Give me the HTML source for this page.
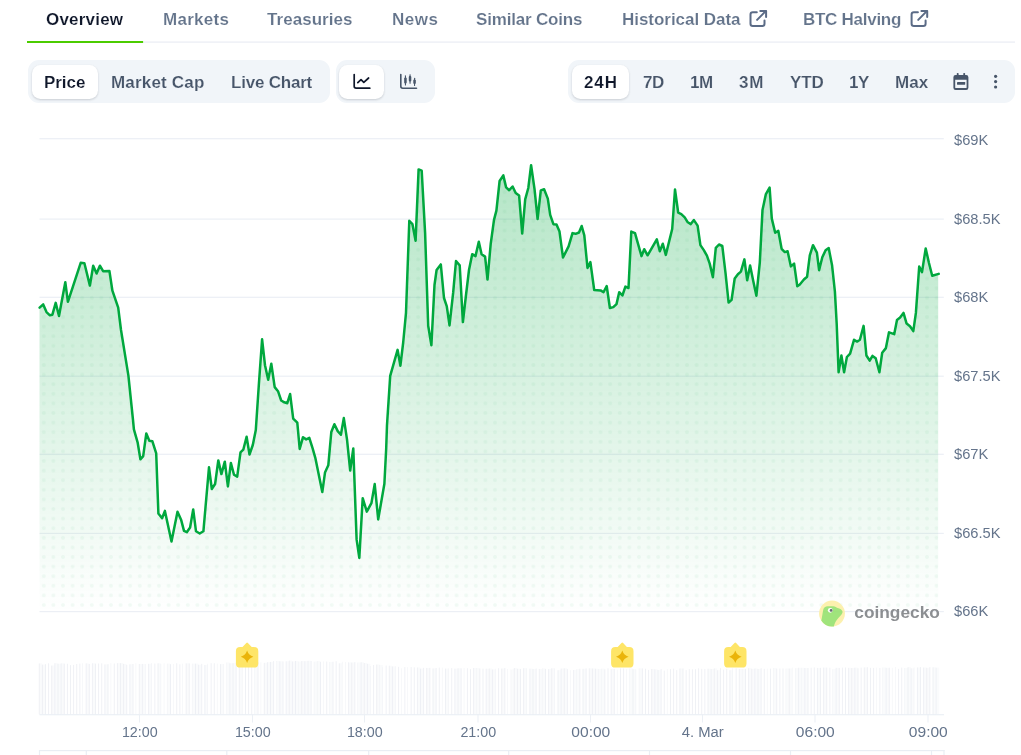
<!DOCTYPE html><html><head><meta charset="utf-8"><title>Bitcoin Price Chart</title><style>
*{margin:0;padding:0;box-sizing:border-box}
html,body{width:1021px;height:755px;overflow:hidden;background:#fff}
body{font-family:"Liberation Sans",sans-serif;position:relative}
.chart{position:absolute;left:0;top:0;will-change:transform}
.ax{font-family:"Liberation Sans",sans-serif;font-size:14.7px;fill:#64748b}
.cg{font-family:"Liberation Sans",sans-serif;font-size:17px;font-weight:700;fill:#808387}
.t{position:absolute;white-space:nowrap;will-change:transform;font-weight:700;font-size:17px;line-height:20px;height:20px}
.nav{color:#64748b;-webkit-text-stroke:0.15px #fff}
.nav.on{color:#0f172a}
.seg{color:#475569;-webkit-text-stroke:0.15px #f1f5f9}
.seg.on{color:#0f172a;-webkit-text-stroke:0.15px #fff}
.navline{position:absolute;left:27px;top:42px;width:988px;height:1.2px;background:#eef1f5}
.navon{position:absolute;left:27px;top:40.8px;width:116px;height:2.4px;background:#4bcc00}
.grp{position:absolute;top:60px;height:43px;background:#f1f5f9;border-radius:11px}
.btn{position:absolute;top:65px;height:34px;background:#fff;border-radius:8.5px;box-shadow:0 1px 2px rgba(15,23,42,.10),0 1px 3px rgba(15,23,42,.08)}
.ico{position:absolute;left:0;top:0}
</style></head><body>
<svg class="chart" width="1021" height="755" viewBox="0 0 1021 755">
<defs>
<linearGradient id="ag" x1="0" y1="138.7" x2="0" y2="611.6" gradientUnits="userSpaceOnUse">
<stop offset="0" stop-color="#00a83e" stop-opacity="0.315"/>
<stop offset="1" stop-color="#00a83e" stop-opacity="0"/>
</linearGradient>
<pattern id="dots" x="39" y="398.6" width="9.6" height="9.6" patternUnits="userSpaceOnUse">
<circle cx="4.8" cy="4.8" r="1.95" fill="#00a83e" fill-opacity="0.05"/>
</pattern>
<clipPath id="ac"><path d="M39.6 307.6 L43.2 304.4 L46.5 312.1 L49.9 315.3 L52.4 314.7 L55.7 302.9 L59.0 316.0 L65.3 282.2 L67.9 301.8 L80.7 262.8 L84.4 263.2 L89.9 285.6 L93.2 265.7 L96.6 273.5 L99.9 265.7 L103.1 271.2 L109.4 270.9 L112.4 290.7 L118.2 307.6 L121.0 330.0 L128.4 375.6 L133.0 420.0 L133.9 429.3 L137.6 442.3 L140.4 459.3 L143.2 456.2 L146.3 433.4 L149.3 440.8 L152.4 441.3 L156.2 453.4 L158.4 513.6 L162.1 518.3 L164.9 510.9 L171.5 541.5 L177.5 511.8 L181.2 520.1 L184.0 530.9 L186.8 532.2 L190.1 527.5 L193.2 509.4 L196.0 531.3 L199.7 533.5 L203.4 531.3 L209.0 467.3 L211.8 489.0 L215.1 484.0 L218.3 460.4 L221.4 474.1 L224.8 461.7 L227.9 486.4 L230.9 463.0 L234.0 474.7 L237.2 476.6 L240.5 452.4 L243.3 449.7 L246.6 436.7 L249.5 454.5 L252.8 445.0 L255.8 430.1 L258.9 383.8 L262.1 339.3 L265.0 365.2 L268.2 379.7 L271.3 363.7 L274.7 387.1 L278.0 391.2 L281.2 400.5 L284.3 402.3 L287.3 403.2 L290.1 394.0 L293.2 418.6 L297.3 422.7 L299.7 449.0 L303.0 437.2 L306.2 439.4 L309.3 437.9 L312.7 448.7 L315.3 457.8 L322.3 492.1 L325.0 472.6 L328.3 465.3 L331.3 432.0 L334.4 424.2 L337.7 431.1 L340.9 434.8 L343.8 418.1 L347.0 439.4 L350.2 470.5 L353.3 448.5 L356.6 539.4 L359.3 557.9 L362.7 498.2 L366.8 511.6 L371.4 503.2 L374.7 484.1 L378.2 519.4 L384.4 483.8 L386.2 448.5 L387.0 425.0 L390.2 375.9 L393.9 362.9 L397.6 349.9 L400.4 365.7 L403.2 342.5 L406.0 312.8 L409.3 220.8 L412.4 224.0 L415.6 240.7 L418.6 169.4 L421.7 170.7 L425.1 232.9 L428.2 325.8 L431.4 345.3 L434.5 285.0 L436.6 270.0 L440.8 264.4 L444.0 298.0 L446.8 306.3 L449.5 325.4 L453.2 292.4 L456.0 261.1 L459.7 265.3 L462.9 322.1 L466.0 295.0 L469.0 270.0 L472.2 254.2 L475.5 256.1 L478.8 241.8 L481.6 254.2 L485.1 256.6 L487.5 279.6 L490.7 244.0 L494.0 219.9 L496.4 210.6 L499.6 181.0 L503.3 175.4 L506.1 187.4 L509.2 190.2 L512.6 186.5 L515.7 193.0 L519.1 195.4 L522.2 233.6 L525.2 199.3 L528.3 188.0 L531.1 165.2 L534.5 188.9 L537.6 219.0 L540.8 190.4 L544.1 189.3 L547.8 198.6 L550.2 214.9 L553.4 224.2 L556.5 224.5 L559.5 231.6 L563.0 257.5 L568.6 246.4 L572.5 233.1 L575.6 233.8 L579.0 232.5 L581.7 226.0 L584.3 235.3 L587.5 268.0 L590.4 262.1 L594.2 290.0 L600.6 290.4 L603.5 292.2 L606.7 286.0 L609.9 308.0 L613.3 307.1 L616.5 304.1 L619.2 292.2 L622.4 295.5 L625.4 286.6 L628.5 288.0 L631.3 231.6 L635.0 233.1 L641.5 256.1 L644.2 249.2 L647.6 255.3 L656.8 239.4 L659.8 251.2 L662.8 243.7 L665.8 254.9 L672.2 229.0 L675.0 189.5 L678.2 212.6 L681.3 214.1 L684.7 217.3 L687.8 222.3 L690.8 224.1 L693.9 220.1 L697.6 225.6 L700.4 245.1 L703.8 250.1 L706.9 255.7 L709.7 263.6 L712.9 277.2 L715.8 247.9 L719.0 244.5 L722.3 246.0 L725.5 272.9 L728.6 302.6 L731.6 299.8 L734.7 278.5 L737.9 274.2 L740.9 271.6 L744.4 259.4 L747.2 280.3 L750.1 265.5 L753.3 281.3 L756.4 295.7 L759.8 262.7 L762.5 209.9 L765.9 194.1 L769.6 187.6 L771.8 218.6 L775.2 232.7 L778.3 230.8 L781.6 248.8 L784.8 252.1 L787.6 251.2 L790.9 266.4 L794.1 263.6 L797.3 286.2 L799.6 284.7 L803.9 279.5 L807.1 276.7 L809.8 255.4 L813.0 245.2 L816.9 252.6 L819.1 270.2 L822.3 257.3 L825.6 250.2 L828.7 248.0 L832.1 265.6 L834.9 291.6 L836.7 324.0 L838.6 372.2 L841.4 355.5 L844.1 372.2 L846.9 357.0 L850.1 353.7 L854.0 339.8 L857.1 341.6 L859.9 339.8 L863.6 325.9 L866.4 355.5 L869.7 360.7 L872.5 355.9 L875.7 358.3 L879.4 372.2 L882.2 352.7 L885.9 348.1 L889.0 332.3 L894.2 334.2 L897.0 319.9 L900.1 317.5 L903.5 312.9 L906.6 323.6 L910.0 326.2 L913.3 331.1 L915.9 312.9 L919.2 266.5 L922.0 272.1 L925.7 248.4 L928.9 262.8 L932.2 275.8 L938.7 273.9 L938.2 273.9 L938.2 611.6 L39.5 611.6 L39.5 307.6 Z"/></clipPath>
</defs>
<rect x="27" y="41.4" width="988" height="1.4" fill="#edeff5"/><rect x="27" y="41" width="116.1" height="2" fill="#4bcc00"/>
<rect x="39.5" y="138.10" width="904.3" height="1.2" fill="#eceff5"/>
<rect x="39.5" y="218.50" width="904.3" height="1.2" fill="#eceff5"/>
<rect x="39.5" y="296.70" width="904.3" height="1.2" fill="#eceff5"/>
<rect x="39.5" y="375.60" width="904.3" height="1.2" fill="#eceff5"/>
<rect x="39.5" y="453.70" width="904.3" height="1.2" fill="#eceff5"/>
<rect x="39.5" y="532.80" width="904.3" height="1.2" fill="#eceff5"/>
<rect x="39.5" y="611.00" width="904.3" height="1.2" fill="#eceff5"/>
<path d="M39.6 307.6 L43.2 304.4 L46.5 312.1 L49.9 315.3 L52.4 314.7 L55.7 302.9 L59.0 316.0 L65.3 282.2 L67.9 301.8 L80.7 262.8 L84.4 263.2 L89.9 285.6 L93.2 265.7 L96.6 273.5 L99.9 265.7 L103.1 271.2 L109.4 270.9 L112.4 290.7 L118.2 307.6 L121.0 330.0 L128.4 375.6 L133.0 420.0 L133.9 429.3 L137.6 442.3 L140.4 459.3 L143.2 456.2 L146.3 433.4 L149.3 440.8 L152.4 441.3 L156.2 453.4 L158.4 513.6 L162.1 518.3 L164.9 510.9 L171.5 541.5 L177.5 511.8 L181.2 520.1 L184.0 530.9 L186.8 532.2 L190.1 527.5 L193.2 509.4 L196.0 531.3 L199.7 533.5 L203.4 531.3 L209.0 467.3 L211.8 489.0 L215.1 484.0 L218.3 460.4 L221.4 474.1 L224.8 461.7 L227.9 486.4 L230.9 463.0 L234.0 474.7 L237.2 476.6 L240.5 452.4 L243.3 449.7 L246.6 436.7 L249.5 454.5 L252.8 445.0 L255.8 430.1 L258.9 383.8 L262.1 339.3 L265.0 365.2 L268.2 379.7 L271.3 363.7 L274.7 387.1 L278.0 391.2 L281.2 400.5 L284.3 402.3 L287.3 403.2 L290.1 394.0 L293.2 418.6 L297.3 422.7 L299.7 449.0 L303.0 437.2 L306.2 439.4 L309.3 437.9 L312.7 448.7 L315.3 457.8 L322.3 492.1 L325.0 472.6 L328.3 465.3 L331.3 432.0 L334.4 424.2 L337.7 431.1 L340.9 434.8 L343.8 418.1 L347.0 439.4 L350.2 470.5 L353.3 448.5 L356.6 539.4 L359.3 557.9 L362.7 498.2 L366.8 511.6 L371.4 503.2 L374.7 484.1 L378.2 519.4 L384.4 483.8 L386.2 448.5 L387.0 425.0 L390.2 375.9 L393.9 362.9 L397.6 349.9 L400.4 365.7 L403.2 342.5 L406.0 312.8 L409.3 220.8 L412.4 224.0 L415.6 240.7 L418.6 169.4 L421.7 170.7 L425.1 232.9 L428.2 325.8 L431.4 345.3 L434.5 285.0 L436.6 270.0 L440.8 264.4 L444.0 298.0 L446.8 306.3 L449.5 325.4 L453.2 292.4 L456.0 261.1 L459.7 265.3 L462.9 322.1 L466.0 295.0 L469.0 270.0 L472.2 254.2 L475.5 256.1 L478.8 241.8 L481.6 254.2 L485.1 256.6 L487.5 279.6 L490.7 244.0 L494.0 219.9 L496.4 210.6 L499.6 181.0 L503.3 175.4 L506.1 187.4 L509.2 190.2 L512.6 186.5 L515.7 193.0 L519.1 195.4 L522.2 233.6 L525.2 199.3 L528.3 188.0 L531.1 165.2 L534.5 188.9 L537.6 219.0 L540.8 190.4 L544.1 189.3 L547.8 198.6 L550.2 214.9 L553.4 224.2 L556.5 224.5 L559.5 231.6 L563.0 257.5 L568.6 246.4 L572.5 233.1 L575.6 233.8 L579.0 232.5 L581.7 226.0 L584.3 235.3 L587.5 268.0 L590.4 262.1 L594.2 290.0 L600.6 290.4 L603.5 292.2 L606.7 286.0 L609.9 308.0 L613.3 307.1 L616.5 304.1 L619.2 292.2 L622.4 295.5 L625.4 286.6 L628.5 288.0 L631.3 231.6 L635.0 233.1 L641.5 256.1 L644.2 249.2 L647.6 255.3 L656.8 239.4 L659.8 251.2 L662.8 243.7 L665.8 254.9 L672.2 229.0 L675.0 189.5 L678.2 212.6 L681.3 214.1 L684.7 217.3 L687.8 222.3 L690.8 224.1 L693.9 220.1 L697.6 225.6 L700.4 245.1 L703.8 250.1 L706.9 255.7 L709.7 263.6 L712.9 277.2 L715.8 247.9 L719.0 244.5 L722.3 246.0 L725.5 272.9 L728.6 302.6 L731.6 299.8 L734.7 278.5 L737.9 274.2 L740.9 271.6 L744.4 259.4 L747.2 280.3 L750.1 265.5 L753.3 281.3 L756.4 295.7 L759.8 262.7 L762.5 209.9 L765.9 194.1 L769.6 187.6 L771.8 218.6 L775.2 232.7 L778.3 230.8 L781.6 248.8 L784.8 252.1 L787.6 251.2 L790.9 266.4 L794.1 263.6 L797.3 286.2 L799.6 284.7 L803.9 279.5 L807.1 276.7 L809.8 255.4 L813.0 245.2 L816.9 252.6 L819.1 270.2 L822.3 257.3 L825.6 250.2 L828.7 248.0 L832.1 265.6 L834.9 291.6 L836.7 324.0 L838.6 372.2 L841.4 355.5 L844.1 372.2 L846.9 357.0 L850.1 353.7 L854.0 339.8 L857.1 341.6 L859.9 339.8 L863.6 325.9 L866.4 355.5 L869.7 360.7 L872.5 355.9 L875.7 358.3 L879.4 372.2 L882.2 352.7 L885.9 348.1 L889.0 332.3 L894.2 334.2 L897.0 319.9 L900.1 317.5 L903.5 312.9 L906.6 323.6 L910.0 326.2 L913.3 331.1 L915.9 312.9 L919.2 266.5 L922.0 272.1 L925.7 248.4 L928.9 262.8 L932.2 275.8 L938.7 273.9 L938.2 273.9 L938.2 611.6 L39.5 611.6 L39.5 307.6 Z" fill="url(#ag)"/>
<rect x="39.5" y="150" width="898.7" height="461.6" fill="url(#dots)" clip-path="url(#ac)"/>
<path d="M39.6 307.6 L43.2 304.4 L46.5 312.1 L49.9 315.3 L52.4 314.7 L55.7 302.9 L59.0 316.0 L65.3 282.2 L67.9 301.8 L80.7 262.8 L84.4 263.2 L89.9 285.6 L93.2 265.7 L96.6 273.5 L99.9 265.7 L103.1 271.2 L109.4 270.9 L112.4 290.7 L118.2 307.6 L121.0 330.0 L128.4 375.6 L133.0 420.0 L133.9 429.3 L137.6 442.3 L140.4 459.3 L143.2 456.2 L146.3 433.4 L149.3 440.8 L152.4 441.3 L156.2 453.4 L158.4 513.6 L162.1 518.3 L164.9 510.9 L171.5 541.5 L177.5 511.8 L181.2 520.1 L184.0 530.9 L186.8 532.2 L190.1 527.5 L193.2 509.4 L196.0 531.3 L199.7 533.5 L203.4 531.3 L209.0 467.3 L211.8 489.0 L215.1 484.0 L218.3 460.4 L221.4 474.1 L224.8 461.7 L227.9 486.4 L230.9 463.0 L234.0 474.7 L237.2 476.6 L240.5 452.4 L243.3 449.7 L246.6 436.7 L249.5 454.5 L252.8 445.0 L255.8 430.1 L258.9 383.8 L262.1 339.3 L265.0 365.2 L268.2 379.7 L271.3 363.7 L274.7 387.1 L278.0 391.2 L281.2 400.5 L284.3 402.3 L287.3 403.2 L290.1 394.0 L293.2 418.6 L297.3 422.7 L299.7 449.0 L303.0 437.2 L306.2 439.4 L309.3 437.9 L312.7 448.7 L315.3 457.8 L322.3 492.1 L325.0 472.6 L328.3 465.3 L331.3 432.0 L334.4 424.2 L337.7 431.1 L340.9 434.8 L343.8 418.1 L347.0 439.4 L350.2 470.5 L353.3 448.5 L356.6 539.4 L359.3 557.9 L362.7 498.2 L366.8 511.6 L371.4 503.2 L374.7 484.1 L378.2 519.4 L384.4 483.8 L386.2 448.5 L387.0 425.0 L390.2 375.9 L393.9 362.9 L397.6 349.9 L400.4 365.7 L403.2 342.5 L406.0 312.8 L409.3 220.8 L412.4 224.0 L415.6 240.7 L418.6 169.4 L421.7 170.7 L425.1 232.9 L428.2 325.8 L431.4 345.3 L434.5 285.0 L436.6 270.0 L440.8 264.4 L444.0 298.0 L446.8 306.3 L449.5 325.4 L453.2 292.4 L456.0 261.1 L459.7 265.3 L462.9 322.1 L466.0 295.0 L469.0 270.0 L472.2 254.2 L475.5 256.1 L478.8 241.8 L481.6 254.2 L485.1 256.6 L487.5 279.6 L490.7 244.0 L494.0 219.9 L496.4 210.6 L499.6 181.0 L503.3 175.4 L506.1 187.4 L509.2 190.2 L512.6 186.5 L515.7 193.0 L519.1 195.4 L522.2 233.6 L525.2 199.3 L528.3 188.0 L531.1 165.2 L534.5 188.9 L537.6 219.0 L540.8 190.4 L544.1 189.3 L547.8 198.6 L550.2 214.9 L553.4 224.2 L556.5 224.5 L559.5 231.6 L563.0 257.5 L568.6 246.4 L572.5 233.1 L575.6 233.8 L579.0 232.5 L581.7 226.0 L584.3 235.3 L587.5 268.0 L590.4 262.1 L594.2 290.0 L600.6 290.4 L603.5 292.2 L606.7 286.0 L609.9 308.0 L613.3 307.1 L616.5 304.1 L619.2 292.2 L622.4 295.5 L625.4 286.6 L628.5 288.0 L631.3 231.6 L635.0 233.1 L641.5 256.1 L644.2 249.2 L647.6 255.3 L656.8 239.4 L659.8 251.2 L662.8 243.7 L665.8 254.9 L672.2 229.0 L675.0 189.5 L678.2 212.6 L681.3 214.1 L684.7 217.3 L687.8 222.3 L690.8 224.1 L693.9 220.1 L697.6 225.6 L700.4 245.1 L703.8 250.1 L706.9 255.7 L709.7 263.6 L712.9 277.2 L715.8 247.9 L719.0 244.5 L722.3 246.0 L725.5 272.9 L728.6 302.6 L731.6 299.8 L734.7 278.5 L737.9 274.2 L740.9 271.6 L744.4 259.4 L747.2 280.3 L750.1 265.5 L753.3 281.3 L756.4 295.7 L759.8 262.7 L762.5 209.9 L765.9 194.1 L769.6 187.6 L771.8 218.6 L775.2 232.7 L778.3 230.8 L781.6 248.8 L784.8 252.1 L787.6 251.2 L790.9 266.4 L794.1 263.6 L797.3 286.2 L799.6 284.7 L803.9 279.5 L807.1 276.7 L809.8 255.4 L813.0 245.2 L816.9 252.6 L819.1 270.2 L822.3 257.3 L825.6 250.2 L828.7 248.0 L832.1 265.6 L834.9 291.6 L836.7 324.0 L838.6 372.2 L841.4 355.5 L844.1 372.2 L846.9 357.0 L850.1 353.7 L854.0 339.8 L857.1 341.6 L859.9 339.8 L863.6 325.9 L866.4 355.5 L869.7 360.7 L872.5 355.9 L875.7 358.3 L879.4 372.2 L882.2 352.7 L885.9 348.1 L889.0 332.3 L894.2 334.2 L897.0 319.9 L900.1 317.5 L903.5 312.9 L906.6 323.6 L910.0 326.2 L913.3 331.1 L915.9 312.9 L919.2 266.5 L922.0 272.1 L925.7 248.4 L928.9 262.8 L932.2 275.8 L938.7 273.9" fill="none" stroke="#00a83e" stroke-width="2.5" stroke-linejoin="round" stroke-linecap="round"/>
<text x="954" y="145.0" class="ax">$69K</text>
<text x="954" y="224.1" class="ax">$68.5K</text>
<text x="954" y="302.2" class="ax">$68K</text>
<text x="954" y="381.1" class="ax">$67.5K</text>
<text x="954" y="459.2" class="ax">$67K</text>
<text x="954" y="538.2" class="ax">$66.5K</text>
<text x="954" y="616.2" class="ax">$66K</text>
<g fill="#fafbfc"><rect x="39.20" y="663.4" width="3.13" height="51.0"/><rect x="42.33" y="664.6" width="3.13" height="49.8"/><rect x="51.70" y="665.5" width="3.13" height="48.9"/><rect x="54.83" y="663.2" width="3.13" height="51.2"/><rect x="57.95" y="663.7" width="3.13" height="50.7"/><rect x="61.08" y="663.3" width="3.13" height="51.1"/><rect x="86.08" y="663.4" width="3.13" height="51.0"/><rect x="92.33" y="663.3" width="3.13" height="51.1"/><rect x="104.83" y="664.4" width="3.13" height="50.0"/><rect x="117.33" y="663.2" width="3.13" height="51.2"/><rect x="120.45" y="663.1" width="3.13" height="51.3"/><rect x="123.58" y="664.0" width="3.13" height="50.4"/><rect x="129.82" y="664.3" width="3.13" height="50.1"/><rect x="139.20" y="664.0" width="3.13" height="50.4"/><rect x="142.32" y="663.9" width="3.13" height="50.5"/><rect x="148.57" y="663.8" width="3.13" height="50.6"/><rect x="157.95" y="663.3" width="3.13" height="51.1"/><rect x="167.32" y="663.6" width="3.13" height="50.8"/><rect x="186.07" y="663.3" width="3.13" height="51.1"/><rect x="192.32" y="663.6" width="3.13" height="50.8"/><rect x="195.45" y="663.6" width="3.13" height="50.8"/><rect x="198.57" y="664.7" width="3.13" height="49.7"/><rect x="204.82" y="664.9" width="3.13" height="49.5"/><rect x="220.45" y="664.1" width="3.13" height="50.3"/><rect x="226.70" y="662.5" width="3.13" height="51.9"/><rect x="229.82" y="663.3" width="3.13" height="51.1"/><rect x="232.95" y="663.2" width="3.13" height="51.2"/><rect x="239.20" y="662.6" width="3.13" height="51.8"/><rect x="254.82" y="661.7" width="3.13" height="52.7"/><rect x="264.20" y="662.8" width="3.13" height="51.6"/><rect x="267.32" y="662.2" width="3.13" height="52.2"/><rect x="270.45" y="661.9" width="3.13" height="52.5"/><rect x="276.70" y="661.1" width="3.13" height="53.3"/><rect x="279.82" y="661.3" width="3.13" height="53.1"/><rect x="286.07" y="661.3" width="3.13" height="53.1"/><rect x="289.20" y="660.6" width="3.13" height="53.8"/><rect x="292.32" y="661.4" width="3.13" height="53.0"/><rect x="295.45" y="660.9" width="3.13" height="53.5"/><rect x="298.57" y="661.6" width="3.13" height="52.8"/><rect x="301.70" y="661.0" width="3.13" height="53.4"/><rect x="304.82" y="661.2" width="3.13" height="53.2"/><rect x="307.95" y="660.8" width="3.13" height="53.6"/><rect x="314.20" y="661.5" width="3.13" height="52.9"/><rect x="317.32" y="661.0" width="3.13" height="53.4"/><rect x="329.82" y="662.0" width="3.13" height="52.4"/><rect x="339.20" y="663.3" width="3.13" height="51.1"/><rect x="348.57" y="662.3" width="3.13" height="52.1"/><rect x="351.70" y="662.5" width="3.13" height="51.9"/><rect x="357.95" y="662.5" width="3.13" height="51.9"/><rect x="361.07" y="662.3" width="3.13" height="52.1"/><rect x="364.20" y="663.0" width="3.13" height="51.4"/><rect x="367.32" y="663.8" width="3.13" height="50.6"/><rect x="376.70" y="664.5" width="3.13" height="49.9"/><rect x="379.82" y="665.1" width="3.13" height="49.3"/><rect x="389.20" y="665.7" width="3.13" height="48.7"/><rect x="392.32" y="666.4" width="3.13" height="48.0"/><rect x="417.32" y="667.5" width="3.13" height="46.9"/><rect x="420.45" y="668.6" width="3.13" height="45.8"/><rect x="426.70" y="667.9" width="3.13" height="46.5"/><rect x="432.95" y="668.4" width="3.13" height="46.0"/><rect x="445.45" y="668.6" width="3.13" height="45.8"/><rect x="454.82" y="668.6" width="3.13" height="45.8"/><rect x="457.95" y="668.3" width="3.13" height="46.1"/><rect x="473.57" y="668.0" width="3.13" height="46.4"/><rect x="476.70" y="668.1" width="3.13" height="46.3"/><rect x="486.07" y="668.7" width="3.13" height="45.7"/><rect x="489.20" y="668.5" width="3.13" height="45.9"/><rect x="492.32" y="669.4" width="3.13" height="45.0"/><rect x="501.70" y="668.5" width="3.13" height="45.9"/><rect x="511.07" y="669.4" width="3.13" height="45.0"/><rect x="514.20" y="668.1" width="3.13" height="46.3"/><rect x="517.33" y="668.7" width="3.13" height="45.7"/><rect x="523.58" y="668.2" width="3.13" height="46.2"/><rect x="529.83" y="668.6" width="3.13" height="45.8"/><rect x="532.95" y="669.0" width="3.13" height="45.4"/><rect x="539.20" y="668.9" width="3.13" height="45.5"/><rect x="542.33" y="668.4" width="3.13" height="46.0"/><rect x="548.58" y="669.1" width="3.13" height="45.3"/><rect x="551.70" y="668.2" width="3.13" height="46.2"/><rect x="557.95" y="670.2" width="3.13" height="44.2"/><rect x="561.08" y="668.5" width="3.13" height="45.9"/><rect x="564.20" y="668.3" width="3.13" height="46.1"/><rect x="573.58" y="670.0" width="3.13" height="44.4"/><rect x="576.70" y="669.2" width="3.13" height="45.2"/><rect x="582.95" y="668.8" width="3.13" height="45.6"/><rect x="589.20" y="668.3" width="3.13" height="46.1"/><rect x="592.33" y="668.5" width="3.13" height="45.9"/><rect x="595.45" y="668.7" width="3.13" height="45.7"/><rect x="598.58" y="669.0" width="3.13" height="45.4"/><rect x="601.70" y="668.6" width="3.13" height="45.8"/><rect x="611.08" y="669.2" width="3.13" height="45.2"/><rect x="629.83" y="668.4" width="3.13" height="46.0"/><rect x="632.95" y="669.1" width="3.13" height="45.3"/><rect x="639.20" y="668.3" width="3.13" height="46.1"/><rect x="651.70" y="669.0" width="3.13" height="45.4"/><rect x="654.83" y="669.4" width="3.13" height="45.0"/><rect x="657.95" y="670.0" width="3.13" height="44.4"/><rect x="679.83" y="668.5" width="3.13" height="45.9"/><rect x="707.95" y="668.7" width="3.13" height="45.7"/><rect x="711.08" y="669.1" width="3.13" height="45.3"/><rect x="714.20" y="668.4" width="3.13" height="46.0"/><rect x="717.33" y="670.2" width="3.13" height="44.2"/><rect x="729.83" y="670.2" width="3.13" height="44.2"/><rect x="739.20" y="668.9" width="3.13" height="45.5"/><rect x="742.33" y="669.0" width="3.13" height="45.4"/><rect x="748.58" y="668.2" width="3.13" height="46.2"/><rect x="751.70" y="668.8" width="3.13" height="45.6"/><rect x="754.83" y="668.5" width="3.13" height="45.9"/><rect x="757.95" y="669.0" width="3.13" height="45.4"/><rect x="773.58" y="668.1" width="3.13" height="46.3"/><rect x="786.08" y="668.5" width="3.13" height="45.9"/><rect x="789.20" y="668.5" width="3.13" height="45.9"/><rect x="795.45" y="668.2" width="3.13" height="46.2"/><rect x="798.58" y="667.7" width="3.13" height="46.7"/><rect x="801.70" y="667.8" width="3.13" height="46.6"/><rect x="804.83" y="668.0" width="3.13" height="46.4"/><rect x="817.33" y="667.9" width="3.13" height="46.5"/><rect x="823.58" y="667.6" width="3.13" height="46.8"/><rect x="832.95" y="669.1" width="3.13" height="45.3"/><rect x="836.08" y="667.8" width="3.13" height="46.6"/><rect x="848.58" y="667.8" width="3.13" height="46.6"/><rect x="851.70" y="668.0" width="3.13" height="46.4"/><rect x="854.83" y="667.6" width="3.13" height="46.8"/><rect x="864.20" y="667.4" width="3.13" height="47.0"/><rect x="882.95" y="667.5" width="3.13" height="46.9"/><rect x="886.08" y="667.8" width="3.13" height="46.6"/><rect x="904.83" y="668.0" width="3.13" height="46.4"/><rect x="907.95" y="667.2" width="3.13" height="47.2"/><rect x="911.08" y="668.4" width="3.13" height="46.0"/><rect x="917.33" y="667.5" width="3.13" height="46.9"/><rect x="923.58" y="667.5" width="3.13" height="46.9"/><rect x="926.70" y="667.8" width="3.13" height="46.6"/><rect x="932.95" y="667.3" width="3.13" height="47.1"/><rect x="936.08" y="667.6" width="3.13" height="46.8"/></g><g fill="#eef0f4"><rect x="38.80" y="663.4" width="0.9" height="51.0"/><rect x="41.93" y="664.6" width="0.9" height="49.8"/><rect x="45.05" y="664.2" width="0.9" height="50.2"/><rect x="48.18" y="663.3" width="0.9" height="51.1"/><rect x="51.30" y="665.5" width="0.9" height="48.9"/><rect x="54.43" y="663.2" width="0.9" height="51.2"/><rect x="57.55" y="663.7" width="0.9" height="50.7"/><rect x="60.68" y="663.3" width="0.9" height="51.1"/><rect x="63.80" y="663.6" width="0.9" height="50.8"/><rect x="66.92" y="663.7" width="0.9" height="50.7"/><rect x="70.05" y="665.1" width="0.9" height="49.3"/><rect x="73.17" y="664.9" width="0.9" height="49.5"/><rect x="76.30" y="664.0" width="0.9" height="50.4"/><rect x="79.42" y="663.6" width="0.9" height="50.8"/><rect x="82.55" y="663.2" width="0.5" height="51.2"/><rect x="85.67" y="663.4" width="0.9" height="51.0"/><rect x="88.80" y="663.9" width="0.9" height="50.5"/><rect x="91.92" y="663.3" width="0.9" height="51.1"/><rect x="95.05" y="663.6" width="0.9" height="50.8"/><rect x="98.17" y="663.5" width="0.9" height="50.9"/><rect x="101.30" y="663.3" width="0.9" height="51.1"/><rect x="104.42" y="664.4" width="0.9" height="50.0"/><rect x="107.55" y="664.1" width="0.9" height="50.3"/><rect x="110.67" y="663.2" width="0.5" height="51.2"/><rect x="113.80" y="663.5" width="0.9" height="50.9"/><rect x="116.92" y="663.2" width="0.9" height="51.2"/><rect x="120.05" y="663.1" width="0.9" height="51.3"/><rect x="123.17" y="664.0" width="0.9" height="50.4"/><rect x="126.30" y="664.9" width="0.9" height="49.5"/><rect x="129.42" y="664.3" width="0.9" height="50.1"/><rect x="132.55" y="663.9" width="0.9" height="50.5"/><rect x="135.67" y="663.2" width="0.5" height="51.2"/><rect x="138.80" y="664.0" width="0.9" height="50.4"/><rect x="141.92" y="663.9" width="0.9" height="50.5"/><rect x="145.05" y="663.9" width="0.5" height="50.5"/><rect x="148.17" y="663.8" width="0.9" height="50.6"/><rect x="151.30" y="663.1" width="0.5" height="51.3"/><rect x="154.42" y="663.5" width="0.9" height="50.9"/><rect x="157.55" y="663.3" width="0.9" height="51.1"/><rect x="160.67" y="664.0" width="0.5" height="50.4"/><rect x="163.80" y="663.2" width="0.5" height="51.2"/><rect x="166.92" y="663.6" width="0.5" height="50.8"/><rect x="170.05" y="664.1" width="0.9" height="50.3"/><rect x="173.17" y="664.0" width="0.5" height="50.4"/><rect x="176.30" y="663.2" width="0.9" height="51.2"/><rect x="179.42" y="664.3" width="0.9" height="50.1"/><rect x="182.55" y="663.6" width="0.5" height="50.8"/><rect x="185.67" y="663.3" width="0.9" height="51.1"/><rect x="188.80" y="663.4" width="0.9" height="51.0"/><rect x="191.92" y="663.6" width="0.5" height="50.8"/><rect x="195.05" y="663.6" width="0.9" height="50.8"/><rect x="198.17" y="664.7" width="0.9" height="49.7"/><rect x="201.30" y="663.8" width="0.9" height="50.6"/><rect x="204.42" y="664.9" width="0.9" height="49.5"/><rect x="207.55" y="663.7" width="0.5" height="50.7"/><rect x="210.67" y="663.2" width="0.9" height="51.2"/><rect x="213.80" y="663.2" width="0.9" height="51.2"/><rect x="216.92" y="663.5" width="0.5" height="50.9"/><rect x="220.05" y="664.1" width="0.9" height="50.3"/><rect x="223.17" y="664.0" width="0.5" height="50.4"/><rect x="226.30" y="662.5" width="0.5" height="51.9"/><rect x="229.42" y="663.3" width="0.9" height="51.1"/><rect x="232.55" y="663.2" width="0.9" height="51.2"/><rect x="235.67" y="662.5" width="0.9" height="51.9"/><rect x="238.80" y="662.6" width="0.9" height="51.8"/><rect x="241.92" y="664.1" width="0.5" height="50.3"/><rect x="245.05" y="662.0" width="0.9" height="52.4"/><rect x="248.17" y="661.9" width="0.9" height="52.5"/><rect x="251.30" y="661.9" width="0.9" height="52.5"/><rect x="254.42" y="661.7" width="0.5" height="52.7"/><rect x="257.55" y="662.2" width="0.9" height="52.2"/><rect x="260.68" y="662.3" width="0.5" height="52.1"/><rect x="263.80" y="662.8" width="0.9" height="51.6"/><rect x="266.93" y="662.2" width="0.9" height="52.2"/><rect x="270.05" y="661.9" width="0.9" height="52.5"/><rect x="273.18" y="661.1" width="0.9" height="53.3"/><rect x="276.30" y="661.1" width="0.5" height="53.3"/><rect x="279.43" y="661.3" width="0.9" height="53.1"/><rect x="282.55" y="661.4" width="0.9" height="53.0"/><rect x="285.68" y="661.3" width="0.9" height="53.1"/><rect x="288.80" y="660.6" width="0.9" height="53.8"/><rect x="291.93" y="661.4" width="0.9" height="53.0"/><rect x="295.05" y="660.9" width="0.9" height="53.5"/><rect x="298.18" y="661.6" width="0.5" height="52.8"/><rect x="301.30" y="661.0" width="0.9" height="53.4"/><rect x="304.43" y="661.2" width="0.9" height="53.2"/><rect x="307.55" y="660.8" width="0.9" height="53.6"/><rect x="310.68" y="661.0" width="0.9" height="53.4"/><rect x="313.80" y="661.5" width="0.5" height="52.9"/><rect x="316.93" y="661.0" width="0.5" height="53.4"/><rect x="320.05" y="661.8" width="0.9" height="52.6"/><rect x="323.18" y="661.4" width="0.5" height="53.0"/><rect x="326.30" y="661.5" width="0.9" height="52.9"/><rect x="329.43" y="662.0" width="0.5" height="52.4"/><rect x="332.55" y="661.7" width="0.9" height="52.7"/><rect x="335.68" y="661.2" width="0.9" height="53.2"/><rect x="338.80" y="663.3" width="0.9" height="51.1"/><rect x="341.93" y="661.7" width="0.5" height="52.7"/><rect x="345.05" y="662.0" width="0.5" height="52.4"/><rect x="348.18" y="662.3" width="0.9" height="52.1"/><rect x="351.30" y="662.5" width="0.9" height="51.9"/><rect x="354.43" y="662.1" width="0.9" height="52.3"/><rect x="357.55" y="662.5" width="0.5" height="51.9"/><rect x="360.68" y="662.3" width="0.9" height="52.1"/><rect x="363.80" y="663.0" width="0.9" height="51.4"/><rect x="366.93" y="663.8" width="0.9" height="50.6"/><rect x="370.05" y="666.1" width="0.5" height="48.3"/><rect x="373.18" y="665.0" width="0.9" height="49.4"/><rect x="376.30" y="664.5" width="0.9" height="49.9"/><rect x="379.43" y="665.1" width="0.5" height="49.3"/><rect x="382.55" y="667.3" width="0.5" height="47.1"/><rect x="385.68" y="665.5" width="0.9" height="48.9"/><rect x="388.80" y="665.7" width="0.9" height="48.7"/><rect x="391.93" y="666.4" width="0.9" height="48.0"/><rect x="395.05" y="666.3" width="0.5" height="48.1"/><rect x="398.18" y="666.8" width="0.9" height="47.6"/><rect x="401.30" y="668.3" width="0.5" height="46.1"/><rect x="404.43" y="667.1" width="0.9" height="47.3"/><rect x="407.55" y="667.1" width="0.5" height="47.3"/><rect x="410.68" y="667.1" width="0.9" height="47.3"/><rect x="413.80" y="667.3" width="0.9" height="47.1"/><rect x="416.93" y="667.5" width="0.9" height="46.9"/><rect x="420.05" y="668.6" width="0.9" height="45.8"/><rect x="423.18" y="667.8" width="0.9" height="46.6"/><rect x="426.30" y="667.9" width="0.9" height="46.5"/><rect x="429.43" y="667.8" width="0.9" height="46.6"/><rect x="432.55" y="668.4" width="0.9" height="46.0"/><rect x="435.68" y="668.0" width="0.9" height="46.4"/><rect x="438.80" y="667.6" width="0.9" height="46.8"/><rect x="441.93" y="667.6" width="0.5" height="46.8"/><rect x="445.05" y="668.6" width="0.9" height="45.8"/><rect x="448.18" y="668.3" width="0.5" height="46.1"/><rect x="451.30" y="668.1" width="0.9" height="46.3"/><rect x="454.43" y="668.6" width="0.9" height="45.8"/><rect x="457.55" y="668.3" width="0.9" height="46.1"/><rect x="460.68" y="668.3" width="0.9" height="46.1"/><rect x="463.80" y="668.0" width="0.5" height="46.4"/><rect x="466.93" y="668.2" width="0.9" height="46.2"/><rect x="470.05" y="669.1" width="0.9" height="45.3"/><rect x="473.18" y="668.0" width="0.9" height="46.4"/><rect x="476.30" y="668.1" width="0.5" height="46.3"/><rect x="479.43" y="668.5" width="0.9" height="45.9"/><rect x="482.55" y="668.6" width="0.9" height="45.8"/><rect x="485.68" y="668.7" width="0.9" height="45.7"/><rect x="488.80" y="668.5" width="0.9" height="45.9"/><rect x="491.93" y="669.4" width="0.9" height="45.0"/><rect x="495.05" y="668.7" width="0.5" height="45.7"/><rect x="498.18" y="668.2" width="0.9" height="46.2"/><rect x="501.30" y="668.5" width="0.9" height="45.9"/><rect x="504.43" y="667.9" width="0.9" height="46.5"/><rect x="507.55" y="668.9" width="0.5" height="45.5"/><rect x="510.68" y="669.4" width="0.5" height="45.0"/><rect x="513.80" y="668.1" width="0.9" height="46.3"/><rect x="516.93" y="668.7" width="0.9" height="45.7"/><rect x="520.05" y="668.9" width="0.9" height="45.5"/><rect x="523.18" y="668.2" width="0.9" height="46.2"/><rect x="526.30" y="668.3" width="0.5" height="46.1"/><rect x="529.43" y="668.6" width="0.9" height="45.8"/><rect x="532.55" y="669.0" width="0.9" height="45.4"/><rect x="535.68" y="668.5" width="0.9" height="45.9"/><rect x="538.80" y="668.9" width="0.9" height="45.5"/><rect x="541.93" y="668.4" width="0.5" height="46.0"/><rect x="545.05" y="668.9" width="0.9" height="45.5"/><rect x="548.18" y="669.1" width="0.9" height="45.3"/><rect x="551.30" y="668.2" width="0.9" height="46.2"/><rect x="554.43" y="668.5" width="0.5" height="45.9"/><rect x="557.55" y="670.2" width="0.9" height="44.2"/><rect x="560.68" y="668.5" width="0.9" height="45.9"/><rect x="563.80" y="668.3" width="0.9" height="46.1"/><rect x="566.93" y="669.1" width="0.9" height="45.3"/><rect x="570.05" y="670.2" width="0.5" height="44.2"/><rect x="573.18" y="670.0" width="0.9" height="44.4"/><rect x="576.30" y="669.2" width="0.5" height="45.2"/><rect x="579.43" y="668.7" width="0.9" height="45.7"/><rect x="582.55" y="668.8" width="0.9" height="45.6"/><rect x="585.68" y="668.4" width="0.9" height="46.0"/><rect x="588.80" y="668.3" width="0.9" height="46.1"/><rect x="591.93" y="668.5" width="0.9" height="45.9"/><rect x="595.05" y="668.7" width="0.9" height="45.7"/><rect x="598.18" y="669.0" width="0.5" height="45.4"/><rect x="601.30" y="668.6" width="0.5" height="45.8"/><rect x="604.43" y="669.3" width="0.9" height="45.1"/><rect x="607.55" y="668.3" width="0.9" height="46.1"/><rect x="610.68" y="669.2" width="0.9" height="45.2"/><rect x="613.80" y="668.9" width="0.9" height="45.5"/><rect x="616.93" y="669.7" width="0.5" height="44.7"/><rect x="620.05" y="668.4" width="0.9" height="46.0"/><rect x="623.18" y="668.4" width="0.9" height="46.0"/><rect x="626.30" y="669.2" width="0.5" height="45.2"/><rect x="629.43" y="668.4" width="0.5" height="46.0"/><rect x="632.55" y="669.1" width="0.9" height="45.3"/><rect x="635.68" y="669.5" width="0.5" height="44.9"/><rect x="638.80" y="668.3" width="0.5" height="46.1"/><rect x="641.93" y="668.4" width="0.9" height="46.0"/><rect x="645.05" y="668.7" width="0.9" height="45.7"/><rect x="648.18" y="669.9" width="0.9" height="44.5"/><rect x="651.30" y="669.0" width="0.9" height="45.4"/><rect x="654.43" y="669.4" width="0.9" height="45.0"/><rect x="657.55" y="670.0" width="0.9" height="44.4"/><rect x="660.68" y="669.0" width="0.9" height="45.4"/><rect x="663.80" y="670.6" width="0.9" height="43.8"/><rect x="666.93" y="669.0" width="0.5" height="45.4"/><rect x="670.05" y="669.1" width="0.9" height="45.3"/><rect x="673.18" y="668.6" width="0.9" height="45.8"/><rect x="676.30" y="670.1" width="0.9" height="44.3"/><rect x="679.43" y="668.5" width="0.9" height="45.9"/><rect x="682.55" y="668.4" width="0.9" height="46.0"/><rect x="685.68" y="670.1" width="0.9" height="44.3"/><rect x="688.80" y="669.1" width="0.9" height="45.3"/><rect x="691.93" y="669.2" width="0.9" height="45.2"/><rect x="695.05" y="669.2" width="0.9" height="45.2"/><rect x="698.18" y="668.3" width="0.9" height="46.1"/><rect x="701.30" y="668.8" width="0.9" height="45.6"/><rect x="704.43" y="668.9" width="0.9" height="45.5"/><rect x="707.55" y="668.7" width="0.9" height="45.7"/><rect x="710.68" y="669.1" width="0.9" height="45.3"/><rect x="713.80" y="668.4" width="0.9" height="46.0"/><rect x="716.93" y="670.2" width="0.9" height="44.2"/><rect x="720.05" y="668.2" width="0.9" height="46.2"/><rect x="723.18" y="669.6" width="0.9" height="44.8"/><rect x="726.30" y="668.8" width="0.9" height="45.6"/><rect x="729.43" y="670.2" width="0.9" height="44.2"/><rect x="732.55" y="668.2" width="0.5" height="46.2"/><rect x="735.68" y="668.3" width="0.9" height="46.1"/><rect x="738.80" y="668.9" width="0.9" height="45.5"/><rect x="741.93" y="669.0" width="0.5" height="45.4"/><rect x="745.05" y="668.9" width="0.9" height="45.5"/><rect x="748.18" y="668.2" width="0.9" height="46.2"/><rect x="751.30" y="668.8" width="0.9" height="45.6"/><rect x="754.43" y="668.5" width="0.9" height="45.9"/><rect x="757.55" y="669.0" width="0.9" height="45.4"/><rect x="760.68" y="668.2" width="0.9" height="46.2"/><rect x="763.80" y="668.8" width="0.9" height="45.6"/><rect x="766.93" y="668.6" width="0.5" height="45.8"/><rect x="770.05" y="668.6" width="0.9" height="45.8"/><rect x="773.18" y="668.1" width="0.5" height="46.3"/><rect x="776.30" y="668.6" width="0.9" height="45.8"/><rect x="779.43" y="668.5" width="0.9" height="45.9"/><rect x="782.55" y="668.4" width="0.9" height="46.0"/><rect x="785.68" y="668.5" width="0.5" height="45.9"/><rect x="788.80" y="668.5" width="0.9" height="45.9"/><rect x="791.93" y="667.6" width="0.5" height="46.8"/><rect x="795.05" y="668.2" width="0.5" height="46.2"/><rect x="798.18" y="667.7" width="0.9" height="46.7"/><rect x="801.30" y="667.8" width="0.5" height="46.6"/><rect x="804.43" y="668.0" width="0.9" height="46.4"/><rect x="807.55" y="667.9" width="0.9" height="46.5"/><rect x="810.68" y="667.7" width="0.9" height="46.7"/><rect x="813.80" y="667.4" width="0.9" height="47.0"/><rect x="816.93" y="667.9" width="0.9" height="46.5"/><rect x="820.05" y="667.8" width="0.9" height="46.6"/><rect x="823.18" y="667.6" width="0.9" height="46.8"/><rect x="826.30" y="667.5" width="0.9" height="46.9"/><rect x="829.43" y="667.7" width="0.9" height="46.7"/><rect x="832.55" y="669.1" width="0.5" height="45.3"/><rect x="835.68" y="667.8" width="0.9" height="46.6"/><rect x="838.80" y="667.9" width="0.9" height="46.5"/><rect x="841.93" y="667.6" width="0.9" height="46.8"/><rect x="845.05" y="667.5" width="0.9" height="46.9"/><rect x="848.18" y="667.8" width="0.9" height="46.6"/><rect x="851.30" y="668.0" width="0.9" height="46.4"/><rect x="854.43" y="667.6" width="0.9" height="46.8"/><rect x="857.55" y="668.2" width="0.9" height="46.2"/><rect x="860.68" y="667.6" width="0.9" height="46.8"/><rect x="863.80" y="667.4" width="0.9" height="47.0"/><rect x="866.93" y="667.2" width="0.9" height="47.2"/><rect x="870.05" y="667.8" width="0.9" height="46.6"/><rect x="873.18" y="667.9" width="0.9" height="46.5"/><rect x="876.30" y="667.6" width="0.5" height="46.8"/><rect x="879.43" y="667.9" width="0.9" height="46.5"/><rect x="882.55" y="667.5" width="0.5" height="46.9"/><rect x="885.68" y="667.8" width="0.9" height="46.6"/><rect x="888.80" y="667.7" width="0.9" height="46.7"/><rect x="891.93" y="667.8" width="0.5" height="46.6"/><rect x="895.05" y="667.1" width="0.5" height="47.3"/><rect x="898.18" y="668.8" width="0.9" height="45.6"/><rect x="901.30" y="667.6" width="0.9" height="46.8"/><rect x="904.43" y="668.0" width="0.5" height="46.4"/><rect x="907.55" y="667.2" width="0.9" height="47.2"/><rect x="910.68" y="668.4" width="0.9" height="46.0"/><rect x="913.80" y="667.4" width="0.5" height="47.0"/><rect x="916.93" y="667.5" width="0.9" height="46.9"/><rect x="920.05" y="667.1" width="0.9" height="47.3"/><rect x="923.18" y="667.5" width="0.9" height="46.9"/><rect x="926.30" y="667.8" width="0.9" height="46.6"/><rect x="929.43" y="667.1" width="0.9" height="47.3"/><rect x="932.55" y="667.3" width="0.9" height="47.1"/><rect x="935.68" y="667.6" width="0.9" height="46.8"/></g>
<rect x="39.5" y="714.1" width="904.5" height="1.2" fill="#ecf0f5"/>
<rect x="139.0" y="714" width="1" height="8.5" fill="#ecf0f5"/>
<text x="139.8" y="737.1" text-anchor="middle" class="ax" textLength="35.8" lengthAdjust="spacingAndGlyphs">12:00</text>
<rect x="252.0" y="714" width="1" height="8.5" fill="#ecf0f5"/>
<text x="252.8" y="737.1" text-anchor="middle" class="ax" textLength="35.8" lengthAdjust="spacingAndGlyphs">15:00</text>
<rect x="364.0" y="714" width="1" height="8.5" fill="#ecf0f5"/>
<text x="364.8" y="737.1" text-anchor="middle" class="ax" textLength="35.8" lengthAdjust="spacingAndGlyphs">18:00</text>
<rect x="477.5" y="714" width="1" height="8.5" fill="#ecf0f5"/>
<text x="478.3" y="737.1" text-anchor="middle" class="ax" textLength="35.8" lengthAdjust="spacingAndGlyphs">21:00</text>
<rect x="590.0" y="714" width="1" height="8.5" fill="#ecf0f5"/>
<text x="590.8" y="737.1" text-anchor="middle" class="ax" textLength="39.0" lengthAdjust="spacingAndGlyphs">00:00</text>
<rect x="702.0" y="714" width="1" height="8.5" fill="#ecf0f5"/>
<text x="702.8" y="737.1" text-anchor="middle" class="ax" textLength="42.0" lengthAdjust="spacingAndGlyphs">4. Mar</text>
<rect x="814.5" y="714" width="1" height="8.5" fill="#ecf0f5"/>
<text x="815.3" y="737.1" text-anchor="middle" class="ax" textLength="39.0" lengthAdjust="spacingAndGlyphs">06:00</text>
<rect x="927.5" y="714" width="1" height="8.5" fill="#ecf0f5"/>
<text x="928.3" y="737.1" text-anchor="middle" class="ax" textLength="39.0" lengthAdjust="spacingAndGlyphs">09:00</text>
<g fill="#e9eef4">
<rect x="39" y="750" width="905.5" height="1.2"/>
<rect x="38.9" y="750" width="1.2" height="5"/>
<rect x="85.7" y="750" width="1.2" height="5"/>
<rect x="226.2" y="750" width="1.2" height="5"/>
<rect x="368.1" y="750" width="1.2" height="5"/>
<rect x="508.1" y="750" width="1.2" height="5"/>
<rect x="648.9" y="750" width="1.2" height="5"/>
<rect x="789.9" y="750" width="1.2" height="5"/>
<rect x="930.9" y="750" width="1.2" height="5"/>
<rect x="943.4" y="750" width="1.2" height="5"/>
</g>
<g><path d="M240.1 647.1 L242.5 647.1 L246.29999999999998 643.0 Q247.1 642.2 247.9 643.0 L251.7 647.1 L254.10000000000002 647.1 Q258.3 647.1 258.3 651.3000000000001 L258.3 663.4 Q258.3 667.6 254.10000000000002 667.6 L240.1 667.6 Q235.9 667.6 235.9 663.4 L235.9 651.3000000000001 Q235.9 647.1 240.1 647.1 Z" fill="#fee567"/><path d="M247.1 650.5 Q248.6 655.3 253.4 656.8 Q248.6 658.3 247.1 663.0999999999999 Q245.6 658.3 240.79999999999998 656.8 Q245.6 655.3 247.1 650.5 Z" fill="#eab40a"/></g>
<g><path d="M615.3 647.1 L617.6999999999999 647.1 L621.5 643.0 Q622.3 642.2 623.0999999999999 643.0 L626.9 647.1 L629.2999999999998 647.1 Q633.4999999999999 647.1 633.4999999999999 651.3000000000001 L633.4999999999999 663.4 Q633.4999999999999 667.6 629.2999999999998 667.6 L615.3 667.6 Q611.0999999999999 667.6 611.0999999999999 663.4 L611.0999999999999 651.3000000000001 Q611.0999999999999 647.1 615.3 647.1 Z" fill="#fee567"/><path d="M622.3 650.5 Q623.8 655.3 628.5999999999999 656.8 Q623.8 658.3 622.3 663.0999999999999 Q620.8 658.3 616.0 656.8 Q620.8 655.3 622.3 650.5 Z" fill="#eab40a"/></g>
<g><path d="M728.3 647.1 L730.6999999999999 647.1 L734.5 643.0 Q735.3 642.2 736.0999999999999 643.0 L739.9 647.1 L742.2999999999998 647.1 Q746.4999999999999 647.1 746.4999999999999 651.3000000000001 L746.4999999999999 663.4 Q746.4999999999999 667.6 742.2999999999998 667.6 L728.3 667.6 Q724.0999999999999 667.6 724.0999999999999 663.4 L724.0999999999999 651.3000000000001 Q724.0999999999999 647.1 728.3 647.1 Z" fill="#fee567"/><path d="M735.3 650.5 Q736.8 655.3 741.5999999999999 656.8 Q736.8 658.3 735.3 663.0999999999999 Q733.8 658.3 729.0 656.8 Q733.8 655.3 735.3 650.5 Z" fill="#eab40a"/></g>
<g opacity="0.9">
<circle cx="832" cy="613.55" r="12.95" fill="#fcefa6"/>
<path d="M821.3 620.4 C822.2 617 822.5 613 823.2 610 C823.8 607.4 825.2 606.2 827.8 606.2 L833.2 606.2 C835.2 606.3 836.3 607.7 838.4 608.3 C840.6 608.9 842.1 610 842.5 611.6 C842.8 613.2 841.6 614.6 840.2 616 C838 618.3 836 620.8 835 623 C834.4 624.5 834 625.7 833.9 626.4 A12.95 12.95 0 0 1 821.3 620.4 Z" fill="#96e16e"/>
<circle cx="830.3" cy="610.3" r="2.4" fill="#fff"/>
<circle cx="831.1" cy="610.4" r="1.4" fill="#5a5a66"/>
<text x="854.3" y="618.2" class="cg" textLength="85.6" lengthAdjust="spacingAndGlyphs">coingecko</text>
</g>
</svg>
<!--NAV-->
<!--SEG-->
<div class="grp" style="left:27.5px;width:302.5px"></div>
<div class="grp" style="left:335.5px;width:99.5px"></div>
<div class="grp" style="left:567.5px;width:447.5px"></div>
<div class="btn" style="left:32px;width:66px"></div>
<div class="btn" style="left:339.3px;width:44.7px"></div>
<div class="btn" style="left:572px;width:56.7px"></div>
<div class="t nav on" style="left:46.2px;top:10.1px;letter-spacing:0.21px">Overview</div>
<div class="t nav" style="left:162.6px;top:10.1px;letter-spacing:0.28px">Markets</div>
<div class="t nav" style="left:267.4px;top:10.1px;letter-spacing:0.04px">Treasuries</div>
<div class="t nav" style="left:391.5px;top:10.1px;letter-spacing:0.52px">News</div>
<div class="t nav" style="left:475.7px;top:10.1px;letter-spacing:-0.18px">Similar Coins</div>
<div class="t nav" style="left:621.5px;top:10.1px;letter-spacing:-0.04px">Historical Data</div>
<div class="t nav" style="left:802.8px;top:10.1px;letter-spacing:-0.27px">BTC Halving</div>
<div class="t seg on" style="left:43.9px;top:72.8px;letter-spacing:-0.05px">Price</div>
<div class="t seg" style="left:111.2px;top:72.8px;letter-spacing:0.19px">Market Cap</div>
<div class="t seg" style="left:231.0px;top:72.8px;letter-spacing:-0.21px">Live Chart</div>
<div class="t seg on" style="left:584.1px;top:72.8px;letter-spacing:0.9px">24H</div>
<div class="t seg" style="left:643.0px;top:72.8px;letter-spacing:-0.5px">7D</div>
<div class="t seg" style="left:689.8px;top:72.8px;letter-spacing:-0.5px">1M</div>
<div class="t seg" style="left:738.8px;top:72.8px;letter-spacing:0.9px">3M</div>
<div class="t seg" style="left:789.6px;top:72.8px;letter-spacing:-0.1px">YTD</div>
<div class="t seg" style="left:848.5px;top:72.8px;letter-spacing:-0.5px">1Y</div>
<div class="t seg" style="left:894.9px;top:72.8px;letter-spacing:0.1px">Max</div>
<svg class="ico" width="1021" height="755" viewBox="0 0 1021 755"><g fill="none" stroke="#5b6b86" stroke-width="2" stroke-linecap="round" stroke-linejoin="round"><path d="M756.8 12.3 H752.8 Q750.5 12.3 750.5 14.600000000000001 V23.700000000000003 Q750.5 26.0 752.8 26.0 H762.2 Q764.5 26.0 764.5 23.700000000000003 V20.6"/><path d="M757.1 19.9 L765.7 11.100000000000001"/><path d="M760.3 10.9 H766.1 V16.9"/></g><g fill="none" stroke="#5b6b86" stroke-width="2" stroke-linecap="round" stroke-linejoin="round"><path d="M917.9 12.3 H913.9 Q911.6 12.3 911.6 14.600000000000001 V23.700000000000003 Q911.6 26.0 913.9 26.0 H923.3000000000001 Q925.6 26.0 925.6 23.700000000000003 V20.6"/><path d="M918.2 19.9 L926.8000000000001 11.100000000000001"/><path d="M921.4 10.9 H927.2 V16.9"/></g><g fill="none" stroke="#0f172a" stroke-width="1.7" stroke-linecap="round" stroke-linejoin="round"><path d="M354.2 74.6 V86.3 Q354.2 88.2 356.1 88.2 H369.8"/><path d="M357.8 82.6 L361 79.6 L363.8 82.4 L368.6 78.0"/></g><g fill="none" stroke="#475569" stroke-width="1.6" stroke-linecap="round" stroke-linejoin="round"><path d="M400.8 74.6 V86.3 Q400.8 88.2 402.7 88.2 H416.5"/></g><g fill="#475569"><rect x="404.9" y="75.2" width="1.1" height="10.4" rx=".5"/><rect x="404.2" y="77.4" width="2.5" height="6.2" rx="1.1"/><rect x="409.5" y="74.3" width="1.1" height="9.4" rx=".5"/><rect x="408.8" y="76" width="2.5" height="5.6" rx="1.1"/><rect x="414" y="77.8" width="1.1" height="8.2" rx=".5"/><rect x="413.3" y="79.5" width="2.5" height="4.6" rx="1.1"/></g><g fill="#475569"><rect x="956.8" y="73.1" width="1.8" height="3.5" rx=".6"/><rect x="963.3" y="73.1" width="1.8" height="3.5" rx=".6"/><path fill-rule="evenodd" d="M955.6 75.1 H966.2 Q968.4 75.1 968.4 77.3 V87.7 Q968.4 89.9 966.2 89.9 H955.6 Q953.4 89.9 953.4 87.7 V77.3 Q953.4 75.1 955.6 75.1 Z M955.2 79.8 V87.4 Q955.2 88.1 955.9 88.1 H965.9 Q966.6 88.1 966.6 87.4 V79.8 Z"/><rect x="957" y="82" width="8.2" height="2.7" rx=".4"/></g><g fill="#475569"><circle cx="995.6" cy="76.3" r="1.6"/><circle cx="995.6" cy="81.6" r="1.6"/><circle cx="995.6" cy="87" r="1.6"/></g></svg>
</body></html>
